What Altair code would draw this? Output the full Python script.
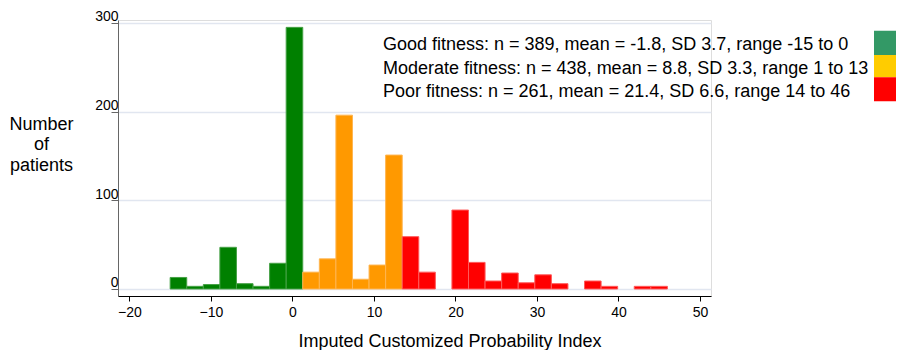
import altair as alt
import pandas as pd

# ---- data -------------------------------------------------------------
bin_start = -15.0
bin_width = 61 / 30          # 30 bins spanning -15 .. 46
groups = ["Good", "Moderate", "Poor"]
first_bin = [0, 8, 14]
good_counts = [13, 3, 5, 47, 6, 3, 29, 295]
moderate_counts = [19, 34, 196, 11, 27, 151]
poor_counts = [59, 19, 0, 89, 30, 9, 18, 7, 16, 6, 0, 9, 3, 0, 3, 3]
bar_colors = ["#008000", "#FF9900", "#FF0000"]
edge_colors = ["#45A045", "#FFB550", "#FF5A5A"]
legend_labels = [
    "Good fitness: n = 389, mean = -1.8, SD 3.7, range -15 to 0",
    "Moderate fitness: n = 438, mean = 8.8, SD 3.3, range 1 to 13",
    "Poor fitness: n = 261, mean = 21.4, SD 6.6, range 14 to 46",
]
legend_colors = ["#339966", "#FFCC00", "#FF0000"]
x_ticks = [-20, -10, 0, 10, 20, 30, 40, 50]
y_ticks = [0, 100, 200, 300]

rows = []
for g, fb, counts, ec in zip(groups, first_bin, [good_counts, moderate_counts, poor_counts], edge_colors):
    for i, c in enumerate(counts):
        if c <= 0:
            continue
        x0 = bin_start + (fb + i) * bin_width
        rows.append({"group": g, "x0": x0, "x1": x0 + bin_width, "count": c, "base": 0, "edge": ec})
df = pd.DataFrame(rows)

W, H = 593, 276
FONT = "Liberation Sans"

bars = alt.Chart(df).mark_rect(strokeWidth=1).encode(
    x=alt.X(
        "x0:Q",
        scale=alt.Scale(domain=[-21.4, 51.35], nice=False, zero=False),
        axis=alt.Axis(
            values=x_ticks, grid=False, tickSize=5, labelFontSize=14, labelPadding=4,
            domainColor="#000000", tickColor="#000000", labelColor="#000000",
            title="Imputed Customized Probability Index", titleFontSize=18,
            titleFontWeight="normal", titleColor="#000000", titleAlign="center",
            titleBaseline="alphabetic", titleY=50, titleX=331.5,
        ),
    ),
    x2="x1:Q",
    y=alt.Y(
        "count:Q",
        scale=alt.Scale(domain=[-7.9, 303.3], nice=False, zero=False),
        axis=alt.Axis(
            values=y_ticks, grid=True, gridColor="#E1E6F0", gridWidth=1.5,
            tickSize=7, tickColor="#666666", domainColor="#666666",
            labelFontSize=14, labelAlign="right", labelBaseline="alphabetic",
            labelPadding=-7, labelOffset=-2, labelColor="#000000",
            title=["Number", "of", "patients"], titleAngle=0, titleAlign="center",
            titleBaseline="alphabetic", titleX=-77, titleY=109, titleFontSize=18,
            titleFontWeight="normal", titleLineHeight=20.5, titleColor="#000000",
        ),
    ),
    y2="base:Q",
    color=alt.Color("group:N", scale=alt.Scale(domain=groups, range=bar_colors), legend=None),
    stroke=alt.Stroke("edge:N", scale=None),
)

layers = [bars]
box_tops = [10.7, 35, 57.3, 81.3]
text_y = [25, 48.5, 72]
for i in range(3):
    ld = pd.DataFrame({"label": [legend_labels[i]]})
    layers.append(
        alt.Chart(ld).mark_text(align="left", baseline="middle", fontSize=18, font=FONT, color="#000000").encode(
            x=alt.value(265), y=alt.value(text_y[i]), text="label:N"
        )
    )
    layers.append(
        alt.Chart(ld).mark_rect(color=legend_colors[i]).encode(
            x=alt.value(756), x2=alt.value(800), y=alt.value(box_tops[i]), y2=alt.value(box_tops[i + 1])
        )
    )

chart = alt.layer(*layers).properties(
    width=W, height=H,
    autosize=alt.AutoSizeParams(type="none"),
    padding={"left": 110, "top": 12, "right": 185, "bottom": 54},
).configure_view(stroke=None).configure(font=FONT)

chart.save("out.html", embed_options={"renderer": "svg", "actions": False})
